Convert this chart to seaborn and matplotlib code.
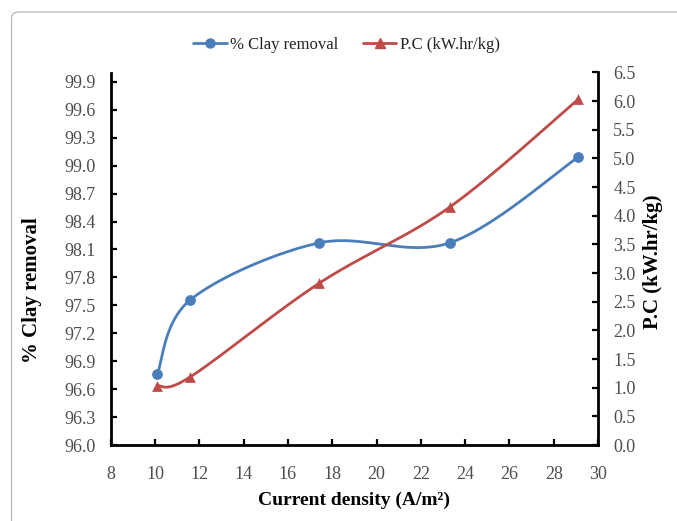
import numpy as np
import pandas as pd
import seaborn as sns
import matplotlib
matplotlib.use("Agg")
import matplotlib.pyplot as plt
from matplotlib.lines import Line2D
from matplotlib.patches import FancyBboxPatch

# Measured series
current_density = [10.1, 11.6, 17.4, 23.3, 29.1]
clay_removal = [96.76, 97.56, 98.17, 98.17, 99.09]
power_consumption = [1.03, 1.19, 2.82, 4.15, 6.03]

x_ticks = [8, 10, 12, 14, 16, 18, 20, 22, 24, 26, 28, 30]
left_ticks = [96.0, 96.3, 96.6, 96.9, 97.2, 97.5, 97.8, 98.1, 98.4, 98.7, 99.0, 99.3, 99.6, 99.9]
right_ticks = [0.0, 0.5, 1.0, 1.5, 2.0, 2.5, 3.0, 3.5, 4.0, 4.5, 5.0, 5.5, 6.0, 6.5]

BLUE = "#4a7ebb"
RED = "#be4b48"
TICK_GREY = "#4d4d4d"


def smooth_curve(xs, ys, n=40):
    """Cardinal (Catmull-Rom style) Bezier smoothing through the given points."""
    p = np.column_stack([xs, ys]).astype(float)
    p_ext = np.vstack([p[0], p, p[-1]])
    out = []
    t = np.linspace(0, 1, n)[:, None]
    for i in range(len(p) - 1):
        p0, p1, p2, p3 = p_ext[i], p_ext[i + 1], p_ext[i + 2], p_ext[i + 3]
        c1 = p1 + (p2 - p0) / 6.0
        c2 = p2 - (p3 - p1) / 6.0
        seg = ((1 - t) ** 3) * p1 + 3 * ((1 - t) ** 2) * t * c1 + 3 * (1 - t) * t ** 2 * c2 + t ** 3 * p2
        out.append(seg if i == 0 else seg[1:])
    out = np.vstack(out)
    return pd.DataFrame({"x": out[:, 0], "y": out[:, 1], "order": np.arange(len(out))})


sns.set_theme(style="white")
plt.rcParams["font.family"] = ["Liberation Serif", "DejaVu Serif"]

fig = plt.figure(figsize=(6.77, 5.21), dpi=100)
ax = fig.add_axes([110.7 / 677, 1 - 445 / 521, (598 - 110.7) / 677, (445 - 72.5) / 521])
ax2 = ax.twinx()

# Outer rounded frame
frame = FancyBboxPatch((11.5 / 677, -0.1), 1.2, 1 - 12 / 521 + 0.1,
                       boxstyle="round,pad=0,rounding_size=0.012",
                       transform=fig.transFigure, fill=False,
                       edgecolor="#bdbdbd", linewidth=1.0, zorder=-5)
fig.patches.append(frame)

clay_df = pd.DataFrame({"x": current_density, "y": clay_removal})
pc_df = pd.DataFrame({"x": current_density, "y": power_consumption})

sns.lineplot(data=smooth_curve(current_density, clay_removal), x="x", y="y",
             sort=False, estimator=None, color=BLUE, linewidth=2.0, ax=ax)
sns.scatterplot(data=clay_df, x="x", y="y", marker="o", s=60, color=BLUE,
                edgecolor=BLUE, linewidth=0, ax=ax, zorder=5)

sns.lineplot(data=smooth_curve(current_density, power_consumption), x="x", y="y",
             sort=False, estimator=None, color=RED, linewidth=2.0, ax=ax2)
sns.scatterplot(data=pc_df, x="x", y="y", marker="^", s=60, color=RED,
                edgecolor=RED, linewidth=0, ax=ax2, zorder=5)

ax.set_xlim(8, 30)
ax.set_ylim(96.0, 100.0)
ax2.set_ylim(0.0, 6.5)

ax.set_xticks(x_ticks)
ax.set_xticklabels([str(v) for v in x_ticks])
ax.set_yticks(left_ticks)
ax.set_yticklabels([f"{v:.1f}" for v in left_ticks])
ax2.set_yticks(right_ticks)
ax2.set_yticklabels([f"{v:.1f}" for v in right_ticks])

for a in (ax, ax2):
    a.set_xlabel("")
    a.set_ylabel("")
    for s in a.spines.values():
        s.set_visible(False)
    a.grid(False)
    a.set_facecolor("none")

ax.spines["left"].set_visible(True)
ax.spines["bottom"].set_visible(True)
ax2.spines["right"].set_visible(True)
for s in (ax.spines["left"], ax.spines["bottom"], ax2.spines["right"]):
    s.set_color("black")
    s.set_linewidth(2.0)

ax.tick_params(axis="x", direction="in", length=4, width=1.6, color="black",
               pad=15, labelsize=13, labelcolor=TICK_GREY, bottom=True)
ax.tick_params(axis="y", direction="in", length=4, width=1.6, color="black",
               pad=11, labelsize=13, labelcolor=TICK_GREY, left=True)
ax2.tick_params(axis="y", direction="in", length=4, width=1.6, color="black",
                pad=11, labelsize=13, labelcolor=TICK_GREY, right=True)

fig.text(32 / 677, 1 - 290 / 521, "% Clay removal", rotation=90, ha="center",
         va="center", fontsize=15, fontweight="bold", color="black")
fig.text(653 / 677, 1 - 262 / 521, "P.C (kW.hr/kg)", rotation=90, ha="center",
         va="center", fontsize=15, fontweight="bold", color="black")
fig.text(354 / 677, 1 - 500 / 521, "Current density (A/m²)", ha="center",
         va="center", fontsize=14, fontweight="bold", color="black")

handles = [
    Line2D([], [], color=BLUE, linewidth=2.0, marker="o", markersize=6.5),
    Line2D([], [], color=RED, linewidth=2.0, marker="^", markersize=6.5),
]
fig.legend(handles, ["% Clay removal", "P.C (kW.hr/kg)"], loc="center",
           bbox_to_anchor=(346.5 / 677, 1 - 45 / 521), ncol=2, frameon=False,
           fontsize=12, handlelength=2.0, handletextpad=0.2, columnspacing=1.5,
           labelcolor="#222222")

fig.savefig("out.png", dpi=100)
